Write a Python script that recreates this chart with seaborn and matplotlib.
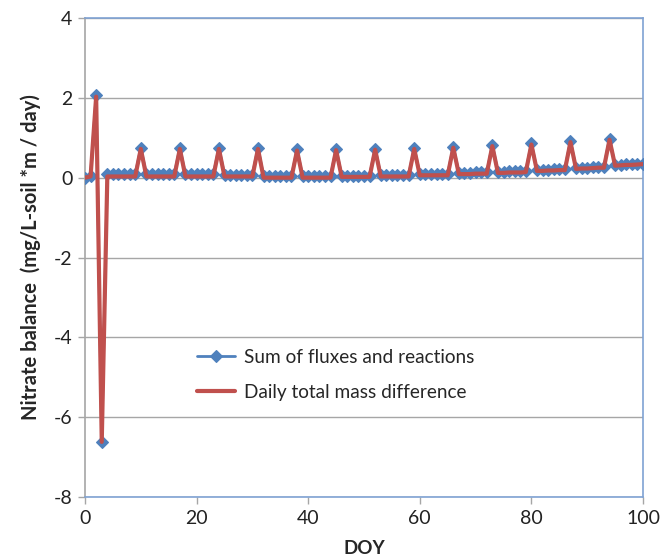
import matplotlib
matplotlib.use("Agg")
import matplotlib.pyplot as plt
import seaborn as sns
import pandas as pd

days = list(range(0, 101))

sum_fluxes = [
    0.00, 0.05, 2.07, -6.62, 0.08, 0.08, 0.08, 0.08, 0.08, 0.08,
    0.75, 0.08, 0.08, 0.08, 0.08, 0.08, 0.08,
    0.75, 0.08, 0.08, 0.08, 0.08, 0.08, 0.08,
    0.75, 0.07, 0.07, 0.07, 0.07, 0.07, 0.07,
    0.75, 0.03, 0.03, 0.03, 0.03, 0.03, 0.03,
    0.71, 0.03, 0.03, 0.03, 0.03, 0.03, 0.03,
    0.72, 0.05, 0.05, 0.05, 0.05, 0.05, 0.05,
    0.73, 0.06, 0.06, 0.06, 0.06, 0.06, 0.06,
    0.75, 0.09, 0.09, 0.09, 0.09, 0.09, 0.09,
    0.78, 0.12, 0.12, 0.12, 0.13, 0.13, 0.13,
    0.82, 0.15, 0.15, 0.16, 0.16, 0.16, 0.17,
    0.86, 0.19, 0.20, 0.20, 0.21, 0.21, 0.22,
    0.92, 0.24, 0.25, 0.25, 0.26, 0.27, 0.27,
    0.98, 0.31, 0.32, 0.33, 0.33, 0.34, 0.35,
]

mass_diff = [
    0.00, 0.03, 2.03, -6.62, 0.03, 0.03, 0.03, 0.03, 0.03, 0.03,
    0.72, 0.03, 0.03, 0.03, 0.03, 0.03, 0.03,
    0.72, 0.03, 0.03, 0.03, 0.03, 0.03, 0.03,
    0.72, 0.03, 0.03, 0.03, 0.03, 0.03, 0.03,
    0.72, 0.00, 0.00, 0.00, 0.00, 0.00, 0.00,
    0.68, 0.00, 0.00, 0.00, 0.00, 0.00, 0.00,
    0.69, 0.02, 0.02, 0.02, 0.02, 0.02, 0.02,
    0.70, 0.03, 0.03, 0.03, 0.03, 0.03, 0.03,
    0.72, 0.06, 0.06, 0.06, 0.06, 0.06, 0.06,
    0.75, 0.09, 0.09, 0.09, 0.10, 0.10, 0.10,
    0.79, 0.12, 0.12, 0.13, 0.13, 0.13, 0.14,
    0.83, 0.17, 0.17, 0.18, 0.18, 0.19, 0.19,
    0.89, 0.22, 0.23, 0.23, 0.24, 0.25, 0.25,
    0.95, 0.30, 0.31, 0.32, 0.32, 0.33, 0.34,
]

label_sum = "Sum of fluxes and reactions"
label_diff = "Daily total mass difference"
x_ticks = [0, 20, 40, 60, 80, 100]
y_ticks = [-8, -6, -4, -2, 0, 2, 4]

df = pd.DataFrame({"DOY": days, "sum": sum_fluxes, "diff": mass_diff})

sns.set_style("white")
plt.rcParams["font.family"] = ["Lato", "DejaVu Sans"]
plt.rcParams["axes.unicode_minus"] = False

fig = plt.figure(figsize=(6.67, 5.59), dpi=100)
ax = fig.add_axes([85 / 667, 1 - 497 / 559, (643 - 85) / 667, (497 - 18) / 559])

blue = "#4F81BD"
red = "#C0504D"

sns.lineplot(data=df, x="DOY", y="sum", ax=ax, color=blue, linewidth=2,
             marker="D", markersize=6.5, markeredgecolor=blue,
             markeredgewidth=0.8, label=label_sum, zorder=3)
sns.lineplot(data=df, x="DOY", y="diff", ax=ax, color=red, linewidth=3,
             label=label_diff, zorder=4)

ax.set_xlim(0, 100)
ax.set_ylim(-8, 4)
ax.set_xticks(x_ticks)
ax.set_yticks(y_ticks)
ax.yaxis.grid(True, color="#A6A6A6", linewidth=1)
ax.xaxis.grid(False)
ax.set_axisbelow(True)

for side in ["top", "right", "bottom"]:
    ax.spines[side].set_color("#7FA2D3")
    ax.spines[side].set_linewidth(1.2)
ax.spines["left"].set_color("#A6A6A6")
ax.spines["left"].set_linewidth(1.2)

ax.tick_params(axis="both", direction="out", length=5, width=1,
               color="#A6A6A6", labelsize=14, labelcolor="#222222", pad=4,
               left=True, bottom=True)

ax.set_xlabel("DOY", fontsize=13.5, fontweight="bold", labelpad=10)
ax.set_ylabel("Nitrate balance  (mg/L-soil *m / day)", fontsize=14.5,
              fontweight="bold", labelpad=9)

leg = ax.legend(loc="upper left", bbox_to_anchor=(0.17, 0.345), frameon=False,
                fontsize=13.7, handlelength=2.0, labelspacing=0.95,
                handletextpad=0.45)

fig.savefig("out.png", dpi=100)
